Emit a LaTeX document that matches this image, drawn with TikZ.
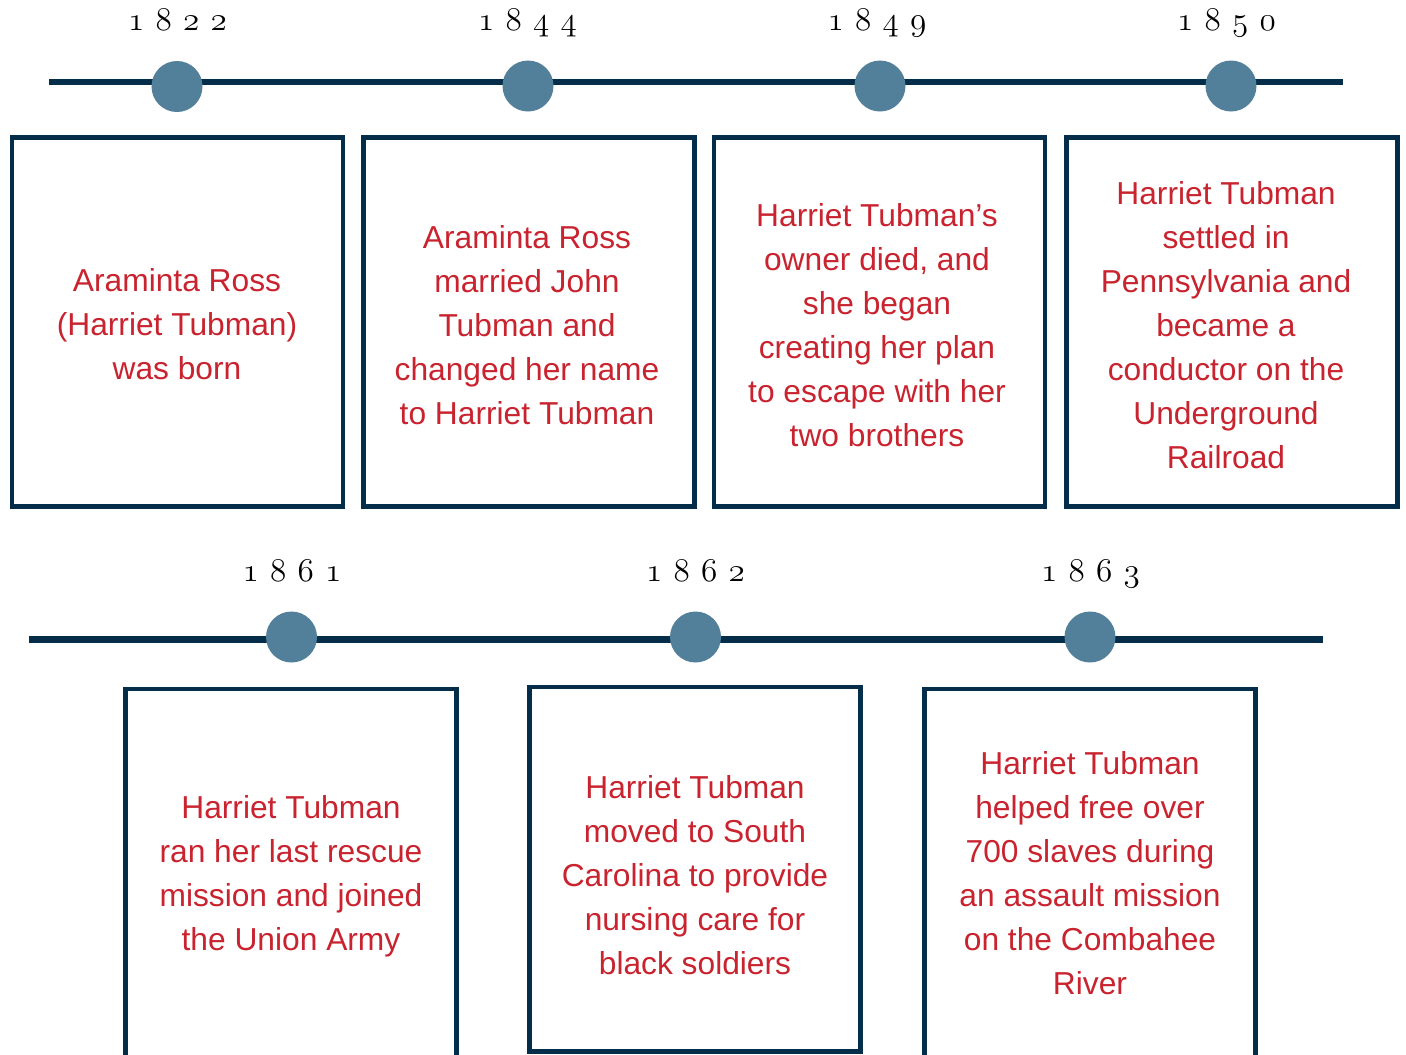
\documentclass[tikz,border=0pt]{standalone}
\usepackage{fontspec}
\newfontfamily\bodyfont{Liberation Sans}
\definecolor{navy}{HTML}{032D48}
\definecolor{dotblue}{HTML}{527F99}
\definecolor{txtred}{HTML}{C8232E}
\newcommand{\yrdigit}[1]{\makebox[20.6pt][c]{#1}}
\newcommand{\yearlabel}[4]{{\fontsize{27.5}{27.5}\usefont{OML}{cmm}{m}{it}\yrdigit{#1}\yrdigit{#2}\yrdigit{#3}\yrdigit{#4}}}
\begin{document}
\begin{tikzpicture}[x=0.75pt,y=-0.75pt,
  timeline/.style={draw=navy,line width=5.2pt},
  dot/.style={circle,fill=dotblue,minimum size=38.25pt,inner sep=0pt},
  year/.style={anchor=base,inner sep=0pt,text=black},
  card/.style={draw=navy,line width=3.4pt,inner sep=0pt,minimum width=248.25pt},
  cardtext/.style={text=txtred,align=center,inner sep=0pt,font=\bodyfont\fontsize{23.8}{33}\selectfont},
]
\useasboundingbox (0,0) rectangle (1406,1054);
\clip (0,0) rectangle (1406,1054);

% ---------- top timeline ----------
\coordinate (ta) at (49,82);
\coordinate (tb) at (1343,82);
\draw[timeline] (ta) -- (tb);
\node[dot] (d1) at (177,86.5) {};
\node[dot] (d2) at (528,86) {};
\node[dot] (d3) at (880,86) {};
\node[dot] (d4) at (1231,86) {};
\node[year] (y1) at (177.5,30) {\yearlabel1822};
\node[year] (y2) at (527.5,30) {\yearlabel1844};
\node[year] (y3) at (877,30) {\yearlabel1849};
\node[year] (y4) at (1226.5,30) {\yearlabel1850};

\node[card,minimum height=276.4pt] (c1) at (177.5,322) {};
\node[card,minimum height=276.4pt] (c2) at (529,322) {};
\node[card,minimum height=276.4pt] (c3) at (879.5,322) {};
\node[card,minimum height=276.4pt] (c4) at (1232,322) {};

\node[cardtext] (x1) at (177,324) {Araminta Ross\\(Harriet Tubman)\\was born};
\node[cardtext] (x2) at (527,325) {Araminta Ross\\married John\\Tubman and\\changed her name\\to Harriet Tubman};
\node[cardtext] (x3) at (877,325) {Harriet Tubman’s\\owner died, and\\she began\\creating her plan\\to escape with her\\two brothers};
\node[cardtext] (x4) at (1226,325) {Harriet Tubman\\settled in\\Pennsylvania and\\became a\\conductor on the\\Underground\\Railroad};

% ---------- bottom timeline ----------
\coordinate (ba) at (29,639.5);
\coordinate (bb) at (1323,639.5);
\draw[timeline] (ba) -- (bb);
\node[dot] (d5) at (291.5,637) {};
\node[dot] (d6) at (695.5,637) {};
\node[dot] (d7) at (1090,637) {};
\node[year] (y5) at (292,581) {\yearlabel1861};
\node[year] (y6) at (695.5,581) {\yearlabel1862};
\node[year] (y7) at (1090.5,581) {\yearlabel1863};

\node[card,minimum height=276pt] (c5) at (291,873) {};
\node[card,minimum height=273.4pt] (c6) at (695,869.25) {};
\node[card,minimum height=276pt] (c7) at (1090,873) {};

\node[cardtext] (x5) at (291,876) {Harriet Tubman\\ran her last rescue\\mission and joined\\the Union Army};
\node[cardtext] (x6) at (695,875) {Harriet Tubman\\moved to South\\Carolina to provide\\nursing care for\\black soldiers};
\node[cardtext] (x7) at (1090,873) {Harriet Tubman\\helped free over\\700 slaves during\\an assault mission\\on the Combahee\\River};
\end{tikzpicture}
\end{document}
